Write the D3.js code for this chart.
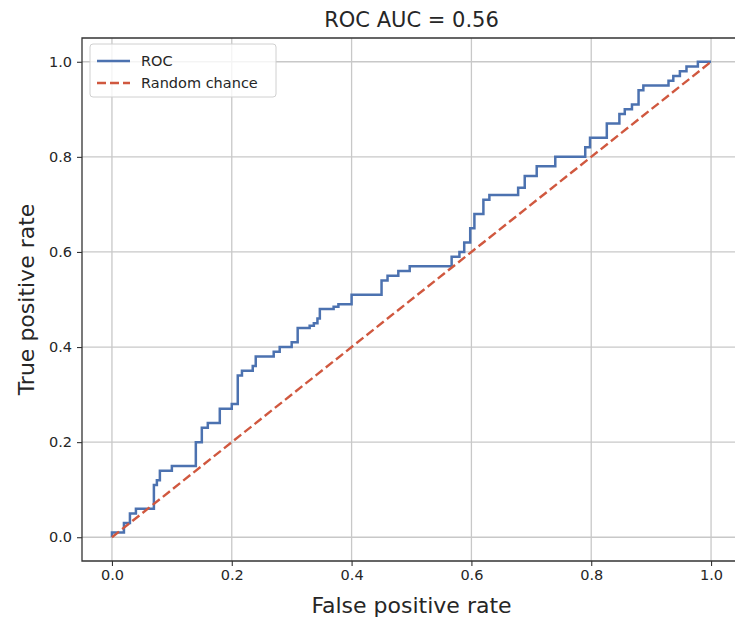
<!DOCTYPE html>
<html>
<head>
<meta charset="utf-8">
<script src="https://cdn.jsdelivr.net/npm/d3@7"></script>
<style>
  body { margin: 0; background: #fff; }
  text { font-family: "DejaVu Sans", sans-serif; fill: #262626; }
</style>
</head>
<body>
<div id="chart"></div>
<script>
// ROC points (top of each vertical step)
var fpr = [0, 0, 0.02, 0.03, 0.04, 0.07, 0.075, 0.08, 0.10, 0.14, 0.15, 0.16, 0.18, 0.20,
  0.21, 0.217, 0.235, 0.24, 0.27, 0.28, 0.30, 0.31, 0.33, 0.337, 0.343, 0.347, 0.37, 0.378,
  0.40, 0.45, 0.46, 0.478, 0.497, 0.567, 0.58, 0.588, 0.598, 0.605, 0.62, 0.63, 0.678, 0.689,
  0.709, 0.74, 0.79, 0.798, 0.826, 0.847, 0.856, 0.868, 0.879, 0.887, 0.929, 0.937, 0.948,
  0.959, 0.978, 1.0];
var tpr = [0, 0.01, 0.03, 0.05, 0.06, 0.11, 0.12, 0.14, 0.15, 0.20, 0.23, 0.24, 0.27, 0.28,
  0.34, 0.35, 0.36, 0.38, 0.39, 0.40, 0.41, 0.44, 0.445, 0.45, 0.46, 0.48, 0.485, 0.49,
  0.51, 0.54, 0.55, 0.56, 0.57, 0.59, 0.60, 0.62, 0.65, 0.68, 0.71, 0.72, 0.735, 0.76,
  0.78, 0.80, 0.82, 0.84, 0.87, 0.89, 0.90, 0.91, 0.94, 0.95, 0.96, 0.97, 0.98,
  0.99, 1.0, 1.0];
var chance = [0, 1];
var ticks = [0, 0.2, 0.4, 0.6, 0.8, 1.0];

var width = 735, height = 624;
var margin = {top: 38, right: -6, bottom: 63, left: 82};
var chartWidth = width - margin.left - margin.right;
var chartHeight = height - margin.top - margin.bottom;

var svg = d3.select("#chart").append("svg")
    .attr("width", width)
    .attr("height", height);

var x = d3.scaleLinear().domain([-0.05, 1.05]).range([0, chartWidth]);
var y = d3.scaleLinear().domain([-0.05, 1.05]).range([chartHeight, 0]);

var g = svg.append("g")
    .attr("transform", `translate(${margin.left}, ${margin.top})`);

svg.append("defs").append("clipPath").attr("id", "clip")
  .append("rect").attr("width", chartWidth).attr("height", chartHeight);

// grid
var grid = g.append("g").attr("clip-path", "url(#clip)");
grid.selectAll(".vg").data(ticks).enter().append("line")
    .attr("x1", d => x(d)).attr("x2", d => x(d))
    .attr("y1", 0).attr("y2", chartHeight)
    .attr("stroke", "#c8c8c8").attr("stroke-width", 1.3);
grid.selectAll(".hg").data(ticks).enter().append("line")
    .attr("y1", d => y(d)).attr("y2", d => y(d))
    .attr("x1", 0).attr("x2", chartWidth)
    .attr("stroke", "#c8c8c8").attr("stroke-width", 1.3);

// axes
var bottomAxis = d3.axisBottom(x).tickValues(ticks).tickFormat(d3.format(".1f")).tickSize(5).tickPadding(4);
var leftAxis = d3.axisLeft(y).tickValues(ticks).tickFormat(d3.format(".1f")).tickSize(5).tickPadding(5);

var xa = g.append("g").attr("transform", `translate(0, ${chartHeight})`).call(bottomAxis);
var ya = g.append("g").call(leftAxis);
[xa, ya].forEach(function(a) {
  a.select(".domain").remove();
  a.selectAll("line").attr("stroke", "#333").attr("stroke-width", 1.1);
  a.selectAll("text").style("font-size", "14.5px").attr("fill", "#333");
});

// spines: left, bottom, top
g.append("path")
    .attr("d", `M${chartWidth},0H0V${chartHeight}H${chartWidth}`)
    .attr("fill", "none").attr("stroke", "#333").attr("stroke-width", 1.3);

// lines
var plot = g.append("g").attr("clip-path", "url(#clip)");
var rocLine = d3.line()
    .x((d, i) => x(fpr[i]))
    .y((d, i) => y(tpr[i]))
    .curve(d3.curveStepAfter);
plot.append("path")
    .datum(fpr)
    .attr("d", rocLine)
    .attr("fill", "none")
    .attr("stroke", "#4c72b0")
    .attr("stroke-width", 2.5);

plot.append("path")
    .datum(chance)
    .attr("d", d3.line().x(d => x(d)).y(d => y(d)))
    .attr("fill", "none")
    .attr("stroke", "#d0583f")
    .attr("stroke-width", 2.4)
    .attr("stroke-dasharray", "9,4");

// legend
var lg = g.append("g").attr("transform", "translate(8, 6)");
lg.append("rect")
    .attr("width", 186).attr("height", 53).attr("rx", 3)
    .attr("fill", "#fff").attr("fill-opacity", 0.8)
    .attr("stroke", "#d0d0d0").attr("stroke-width", 1);
lg.append("line").attr("x1", 7).attr("x2", 40).attr("y1", 17).attr("y2", 17)
    .attr("stroke", "#4c72b0").attr("stroke-width", 2.5);
lg.append("text").attr("x", 51).attr("y", 22).text("ROC").style("font-size", "14.5px");
lg.append("line").attr("x1", 7).attr("x2", 40).attr("y1", 39).attr("y2", 39)
    .attr("stroke", "#d0583f").attr("stroke-width", 2.4).attr("stroke-dasharray", "9,4");
lg.append("text").attr("x", 51).attr("y", 44).text("Random chance").style("font-size", "14.5px");

// title & labels
svg.append("text")
    .attr("x", margin.left + chartWidth / 2).attr("y", 27)
    .attr("text-anchor", "middle")
    .style("font-size", "21px")
    .text("ROC AUC = 0.56");
svg.append("text")
    .attr("x", margin.left + chartWidth / 2).attr("y", 613)
    .attr("text-anchor", "middle")
    .style("font-size", "22px")
    .text("False positive rate");
svg.append("text")
    .attr("transform", `translate(34, ${margin.top + chartHeight / 2}) rotate(-90)`)
    .attr("text-anchor", "middle")
    .style("font-size", "22px")
    .text("True positive rate");
</script>
</body>
</html>
